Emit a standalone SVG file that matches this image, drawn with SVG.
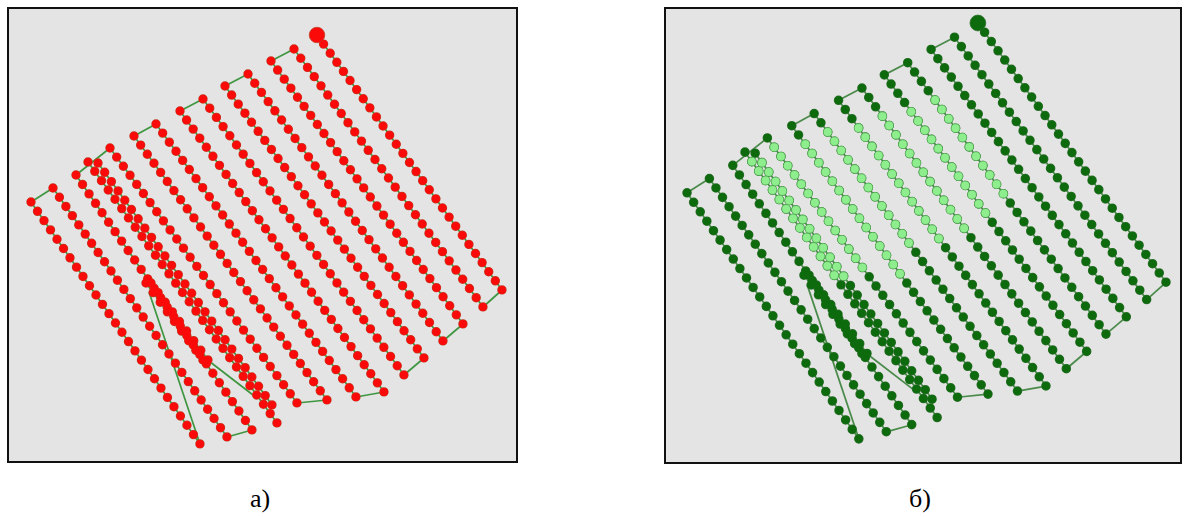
<svg xmlns="http://www.w3.org/2000/svg" xmlns:xlink="http://www.w3.org/1999/xlink" width="1186" height="517" viewBox="0 0 1186 517">
<style>
.frame{fill:#e4e4e4;stroke:#111;stroke-width:2}
.ga{fill:none;stroke:#3f9640;stroke-width:1.7}
.gb{fill:none;stroke:#4a8a4a;stroke-width:1.7}
.dot{fill:none;stroke-linecap:round;stroke-dasharray:0 1}
.ro{stroke:#c23a22;stroke-width:9.4}
.ri{stroke:#fb0a0a;stroke-width:8}
.go{stroke:#2d6f2d;stroke-width:9.4}
.gi{stroke:#0d6b0d;stroke-width:8}
.lo{stroke:#58ae58;stroke-width:9.4}
.li{stroke:#8eee8e;stroke-width:7.8}
.lbl{font-family:"Liberation Serif","Times New Roman",serif;font-size:26px;fill:#000;text-anchor:middle}
</style>
<defs>
<g id="lines">
<line x1="317" y1="35" x2="502" y2="290" pathLength="28.01"/>
<line x1="294" y1="49" x2="483" y2="307" pathLength="28.01"/>
<line x1="271" y1="61" x2="463" y2="324" pathLength="29.01"/>
<line x1="248" y1="74" x2="443" y2="341" pathLength="29.01"/>
<line x1="225" y1="86" x2="424" y2="358" pathLength="30.01"/>
<line x1="203" y1="99" x2="404" y2="375" pathLength="30.01"/>
<line x1="180" y1="111" x2="384" y2="392" pathLength="31.01"/>
<line x1="156" y1="124" x2="356" y2="397" pathLength="30.01"/>
<line x1="134" y1="136" x2="327" y2="400" pathLength="29.01"/>
<line x1="110" y1="148" x2="297" y2="403" pathLength="28.01"/>
<line x1="98" y1="163" x2="272" y2="405" pathLength="26.01"/>
<line x1="88" y1="162" x2="277" y2="423" pathLength="28.01"/>
<line x1="76" y1="175" x2="252" y2="430" pathLength="27.01"/>
<line x1="146" y1="283" x2="203" y2="360" pathLength="8.01"/>
<line x1="151" y1="283" x2="208" y2="360" pathLength="8.01"/>
<line x1="53" y1="188" x2="227" y2="437" pathLength="27.01"/>
<line x1="31" y1="202" x2="200" y2="444" pathLength="26.01"/>
</g>
<g id="light">
<line x1="274.9" y1="110.8" x2="342.1" y2="202.9" pathLength="10.01"/>
<line x1="251.5" y1="122.3" x2="324.5" y2="222" pathLength="11.01"/>
<line x1="223.1" y1="126.6" x2="303.5" y2="237" pathLength="12.01"/>
<line x1="199.7" y1="138.2" x2="278.7" y2="247" pathLength="12.01"/>
<line x1="169.3" y1="142.2" x2="249.3" y2="251.4" pathLength="12.01"/>
<line x1="147.3" y1="154.2" x2="240.5" y2="281.7" pathLength="14.01"/>
<line x1="116.7" y1="157.1" x2="203.5" y2="275.5" pathLength="13.01"/>
<line x1="104.7" y1="172.3" x2="185" y2="284" pathLength="12.01"/>
<line x1="94.75" y1="171.3" x2="175.8" y2="283.2" pathLength="12.01"/>
</g>
<g id="conns">
<polyline points="502,290 483,307"/>
<polyline points="294,49 271,61"/>
<polyline points="463,324 443,341"/>
<polyline points="248,74 225,86"/>
<polyline points="424,358 404,375"/>
<polyline points="203,99 180,111"/>
<polyline points="384,392 356,397"/>
<polyline points="156,124 134,136"/>
<polyline points="327,400 297,403"/>
<polyline points="110,148 76,175"/>
<polyline points="252,430 227,437"/>
<polyline points="53,188 31,202"/>
<polyline points="200,444 149,292"/>
<polyline points="205,358 253,395"/>
</g>
</defs>

<g id="panel-a">
<rect class="frame" x="8" y="8" width="509" height="454"/>
<g id="connectors-a">
<use xlink:href="#conns" class="ga"/>
<use xlink:href="#lines" class="ga"/>
</g>
<g id="waypoints-a">
<use xlink:href="#lines" class="dot ro"/>
<use xlink:href="#lines" class="dot ri"/>
<circle cx="317" cy="35" r="7.8" fill="#fb0a0a" stroke="#c23a22" stroke-width="0.7"/>
</g>
<text class="lbl" x="260" y="507">а)</text>
</g>

<g id="panel-b">
<rect class="frame" x="665" y="8" width="516" height="455"/>
<g transform="translate(655.5,-12.6) scale(1.017)">
<g id="connectors-b">
<use xlink:href="#conns" class="gb"/>
<use xlink:href="#lines" class="gb"/>
</g>
<g id="waypoints-b">
<use xlink:href="#lines" class="dot go"/>
<use xlink:href="#lines" class="dot gi"/>
<use xlink:href="#light" class="dot lo"/>
<use xlink:href="#light" class="dot li"/>
<circle cx="317" cy="35" r="7.8" fill="#0d6b0d" stroke="#2d6f2d" stroke-width="0.7"/>
</g>
</g>
<text class="lbl" x="920" y="507">б)</text>
</g>
</svg>
